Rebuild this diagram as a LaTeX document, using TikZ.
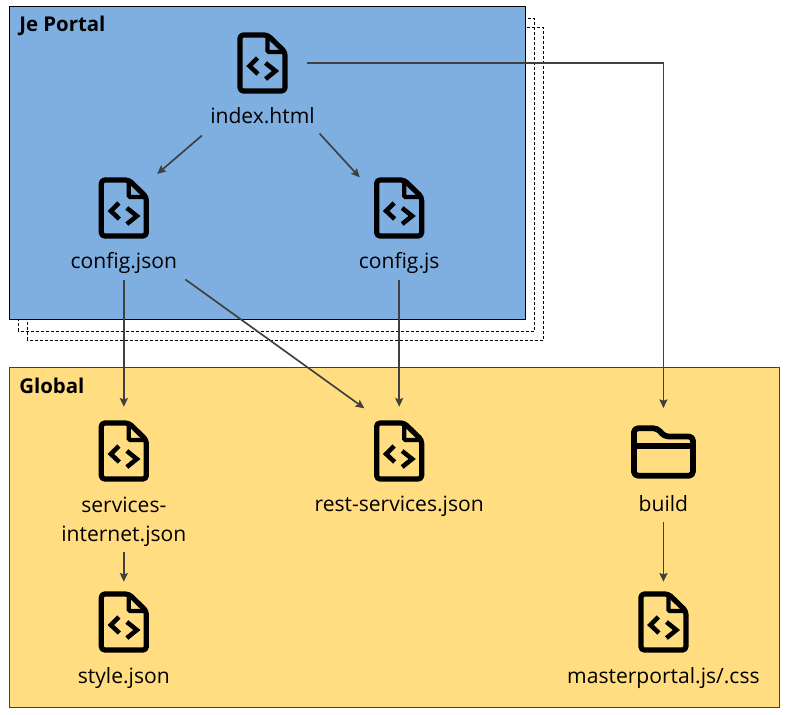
\documentclass[tikz,border=0pt]{standalone}
\usepackage{fontspec}
\setmainfont{Open Sans}
\usetikzlibrary{arrows.meta,positioning}

\definecolor{portalblue}{HTML}{7FAFE0}
\definecolor{globalyellow}{HTML}{FFDD80}
\definecolor{linegray}{HTML}{404040}

\tikzset{
	codefile/.pic={
		\draw[line width=3.9pt,line join=round,rounded corners=2.5pt] (5,-28) -- (-22.5,-28) -- (-22.5,28) -- (22.5,28) -- (22.5,-11) -- cycle;
		\draw[line width=3.2pt,rounded corners=1pt] (5,-28) -- (5,-11) -- (22.5,-11);
		\draw[line width=3.4pt,line join=miter] (-5,-5) -- (-13,3) -- (-4.5,11);
		\draw[line width=3.4pt,line join=miter] (3,0) -- (13,8) -- (3,16);
	},
	foldericon/.pic={
		\draw[line width=4.3pt,line join=round,rounded corners=3pt] (-29.5,-5) -- (-29.5,-22.7) -- (-6,-22.7) -- (1,-14.5) -- (29.5,-14.5) -- (29.5,24.7) -- (-29.5,24.7) -- cycle;
		\draw[line width=4.3pt] (-29.5,-5) -- (29.5,-5);
	}
}

\begin{document}
\begin{tikzpicture}[x=0.75pt,y=-0.75pt,on grid,
	icon/.style={inner sep=0pt,minimum width=37.5pt,minimum height=45pt},
	bigicon/.style={inner sep=0pt,minimum width=48.75pt,minimum height=40pt},
	lbl/.style={inner sep=0pt,font=\fontsize{15.8}{21.75}\selectfont,text=black,align=center,text height=15pt,text depth=3.5pt},
	title/.style={inner sep=0pt,anchor=west,font=\fontsize{15.3}{17}\selectfont\bfseries,text height=11pt,text depth=0pt},
	link/.style={-{Stealth[length=6.5pt,width=6pt,inset=1pt]},draw=linegray,line width=1.25pt},
	]
	\useasboundingbox (0,0) rectangle (785,714);
	\draw[dash pattern=on 2.25pt off 1.5pt,line width=0.75pt] (18.5,18) rectangle (534,331);
	\draw[dash pattern=on 2.25pt off 1.5pt,line width=0.75pt] (27.5,27) rectangle (543,340);
	\draw[fill=portalblue,draw=black,line width=0.75pt] (9.5,6.5) rectangle (525.5,319);
	\draw[fill=globalyellow,draw=linegray,line width=0.75pt] (9.5,367.5) rectangle (779,707);
	\node[title] (portaltitle) at (19,24.4) {Je Portal};
	\node[title] (globaltitle) at (19,386) {Global};

	\node[icon] (idx) at (262.5,63) {};
	\node[icon] (cfgjson) [below left=108.75pt and 104pt of idx] {};
	\node[icon] (cfgjs) [below right=108.75pt and 102.5pt of idx] {};
	\node[icon] (services) [below=182.25pt of cfgjson] {};
	\node[icon] (rest) [below=182.25pt of cfgjs] {};
	\node[icon] (stylefile) [below=128.25pt of services] {};
	\node[bigicon] (build) [right=198.2pt of rest] {};
	\node[icon] (master) [below=128.25pt of build] {};

	\node[lbl] (idxlbl) [below=39.75pt of idx] {index.html};
	\node[lbl] (cfgjsonlbl) [below=39.75pt of cfgjson] {config.json};
	\node[lbl] (cfgjslbl) [below=39.75pt of cfgjs] {config.js};
	\node[lbl,text height=,text depth=] (serviceslbl) [below=52.75pt of services] {services-\\internet.json};
	\node[lbl] (restlbl) [below=39.75pt of rest] {rest-services.json};
	\node[lbl] (stylelbl) [below=40.5pt of stylefile] {style.json};
	\node[lbl] (buildlbl) [below=39.75pt of build] {build};
	\node[lbl] (masterlbl) [below=40pt of master] {masterportal.js/.css};

	\foreach \n in {idx,cfgjson,cfgjs,services,rest,stylefile,master}
		\pic at (\n) {codefile};
	\pic at (build) {foldericon};

	\draw[link,shorten <=8pt,shorten >=8pt] (idxlbl.south west) -- (cfgjson.47);
	\draw[link,shorten <=5pt,shorten >=15.7pt] (idxlbl.south east) -- (cfgjs.149);
	\draw[link,shorten <=14.6pt,shorten >=12pt] (idx.east) -| (build.north);
	\draw[link,shorten <=5pt,shorten >=10.5pt] (cfgjsonlbl.south) -- (services.north);
	\draw[link,shorten <=5pt,shorten >=10.5pt] (cfgjslbl.south) -- (rest.north);
	\draw[link,shorten <=7.5pt,shorten >=16pt] (cfgjsonlbl.south east) -- (rest.120);
	\draw[link,shorten <=4.5pt,shorten >=7.5pt] (serviceslbl.south) -- (stylefile.north);
	\draw[link,shorten <=4.3pt,shorten >=7.5pt] (buildlbl.south) -- (master.north);
\end{tikzpicture}
\end{document}
